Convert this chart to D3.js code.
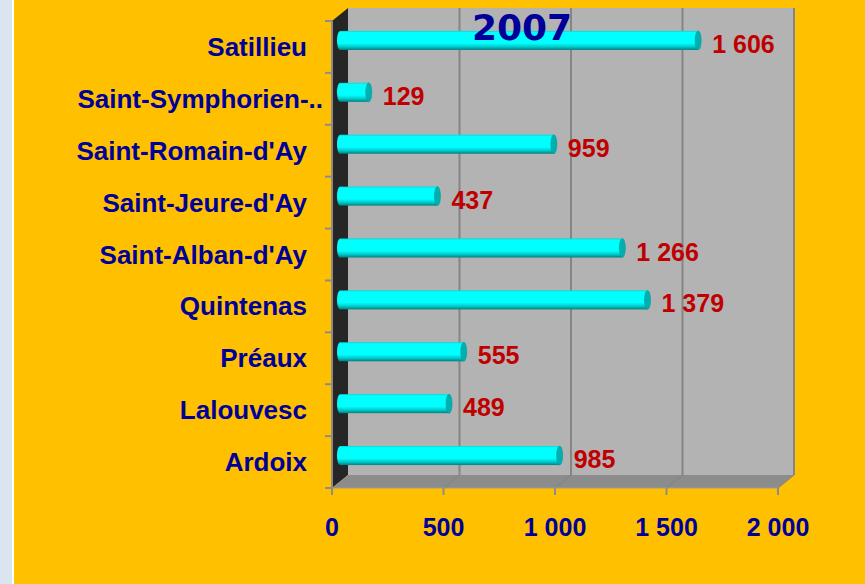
<!DOCTYPE html>
<html>
<head>
<meta charset="utf-8">
<script src="https://cdn.jsdelivr.net/npm/d3@7"></script>
<style>
  body { margin: 0; background: #ffc000; }
  svg { display: block; }
</style>
</head>
<body>
<div id="chart"></div>
<script>
// communes, top to bottom as drawn
var categories = ["Satillieu", "Saint-Symphorien-..", "Saint-Romain-d'Ay", "Saint-Jeure-d'Ay",
                  "Saint-Alban-d'Ay", "Quintenas", "Préaux", "Lalouvesc", "Ardoix"];
var population = [1606, 129, 959, 437, 1266, 1379, 555, 489, 985];
var xTicks = [0, 500, 1000, 1500, 2000];
var title = "2007";

var width = 865, height = 584;
var depthX = 16, depthY = 13;   // 3d offset of the back wall

var svg = d3.select("#chart").append("svg")
    .attr("width", width)
    .attr("height", height);

var defs = svg.append("defs");
var grad = defs.append("linearGradient")
    .attr("id", "cyl")
    .attr("x1", 0).attr("y1", 0).attr("x2", 0).attr("y2", 1);
grad.append("stop").attr("offset", "0%").attr("stop-color", "#00d8d8");
grad.append("stop").attr("offset", "8%").attr("stop-color", "#00ffff");
grad.append("stop").attr("offset", "65%").attr("stop-color", "#00ffff");
grad.append("stop").attr("offset", "85%").attr("stop-color", "#00c4c4");
grad.append("stop").attr("offset", "100%").attr("stop-color", "#008080");

// page background: pale strip at the left, then the orange panel
svg.append("rect").attr("width", width).attr("height", height).attr("fill", "#ffc000");
svg.append("rect").attr("width", 12).attr("height", height).attr("fill", "#dbe5f1");
svg.append("rect").attr("x", 12).attr("width", 2).attr("height", height).attr("fill", "#ffffff");

var x = d3.scaleLinear().domain([0, 2000]).range([332, 778]);
var y = d3.scaleBand().domain(categories).range([21, 488]);

var xFloor = y.range()[1];
var xTop = y.range()[0];

var fmt = d3.formatLocale({ decimal: ",", thousands: " ", grouping: [3], currency: ["", " €"] }).format(",d");

// side wall
svg.append("path")
    .attr("d", d3.line()([[x(0), xTop], [x(0) + depthX, xTop - depthY],
        [x(0) + depthX, xFloor - depthY], [x(0), xFloor]]))
    .attr("fill", "#262626");

// back wall
svg.append("rect")
    .attr("x", x(0) + depthX)
    .attr("y", xTop - depthY)
    .attr("width", x(2000) - x(0))
    .attr("height", xFloor - xTop)
    .attr("fill", "#b3b3b3");

// floor
svg.append("path")
    .attr("d", d3.line()([[x(0), xFloor], [x(0) + depthX, xFloor - depthY],
        [x(2000) + depthX, xFloor - depthY], [x(2000), xFloor]]))
    .attr("fill", "#8c8c8c");

// gridlines on the wall and floor
svg.selectAll(".grid").data(xTicks.slice(1)).enter().append("line")
    .attr("x1", d => x(d) + depthX).attr("x2", d => x(d) + depthX)
    .attr("y1", xTop - depthY).attr("y2", xFloor - depthY)
    .attr("stroke", "#858585").attr("stroke-width", 2);
svg.selectAll(".fgrid").data(xTicks.slice(1)).enter().append("line")
    .attr("x1", d => x(d) + depthX).attr("x2", d => x(d))
    .attr("y1", xFloor - depthY).attr("y2", xFloor)
    .attr("stroke", "#828282").attr("stroke-width", 1);

// axes
var yAxis = svg.append("g")
    .attr("transform", "translate(" + x(0) + ",0)");
yAxis.append("line")
    .attr("y1", xTop).attr("y2", xFloor)
    .attr("stroke", "#8c8c8c").attr("stroke-width", 2);
yAxis.selectAll(".tick").data(categories.concat(["end"])).enter().append("line")
    .attr("x1", -7).attr("x2", 0)
    .attr("y1", (d, i) => i < categories.length ? y(d) : xFloor)
    .attr("y2", (d, i) => i < categories.length ? y(d) : xFloor)
    .attr("stroke", "#8c8c8c").attr("stroke-width", 2);

svg.append("line")
    .attr("x1", x(0)).attr("x2", x(2000))
    .attr("y1", xFloor).attr("y2", xFloor)
    .attr("stroke", "#9a9a9a").attr("stroke-width", 1);
svg.selectAll(".xtick").data(xTicks).enter().append("line")
    .attr("x1", d => x(d)).attr("x2", d => x(d))
    .attr("y1", xFloor).attr("y2", xFloor + 7)
    .attr("stroke", "#8c8c8c").attr("stroke-width", 2);

svg.selectAll(".xlabel").data(xTicks).enter().append("text")
    .attr("x", d => x(d))
    .attr("y", 536)
    .attr("text-anchor", "middle")
    .style("font", "bold 25px 'Liberation Sans', Arial, sans-serif")
    .attr("fill", "#000099")
    .text(d => fmt(d));

svg.selectAll(".ylabel").data(categories).enter().append("text")
    .attr("x", 307)
    .attr("dx", d => d.slice(-2) == ".." ? 16 : 0)
    .attr("y", d => y(d) + y.bandwidth() / 2 + 9)
    .attr("text-anchor", "end")
    .style("font", "bold 26px 'Liberation Sans', Arial, sans-serif")
    .attr("fill", "#000099")
    .text(d => d);

// cylinders
var barH = 19, rx = 3;
var bars = svg.selectAll(".bar").data(population).enter().append("g")
    .attr("transform", (d, i) => "translate(0," + (y(categories[i]) + y.bandwidth() / 2 - depthY / 2) + ")");

bars.append("ellipse")
    .attr("cx", x(0) + depthX / 2)
    .attr("rx", rx).attr("ry", barH / 2)
    .attr("fill", "url(#cyl)");
bars.append("rect")
    .attr("x", x(0) + depthX / 2)
    .attr("y", -barH / 2)
    .attr("width", d => x(d) - x(0))
    .attr("height", barH)
    .attr("fill", "url(#cyl)");
bars.append("ellipse")
    .attr("cx", d => x(d) + depthX / 2)
    .attr("rx", rx).attr("ry", barH / 2)
    .attr("fill", "#00b0b0")
    .attr("stroke", "#009c9c").attr("stroke-width", 0.6);

svg.selectAll(".val").data(population).enter().append("text")
    .attr("x", d => x(d) + 22)
    .attr("y", (d, i) => y(categories[i]) + y.bandwidth() / 2 + 6)
    .style("font", "bold 25px 'Liberation Sans', Arial, sans-serif")
    .attr("fill", "#c00000")
    .text(d => fmt(d));

svg.append("text")
    .attr("x", 522)
    .attr("y", 40)
    .attr("text-anchor", "middle")
    .style("font", "bold 36px 'DejaVu Sans', Verdana, sans-serif")
    .attr("fill", "#000099")
    .text(title);
</script>
</body>
</html>
